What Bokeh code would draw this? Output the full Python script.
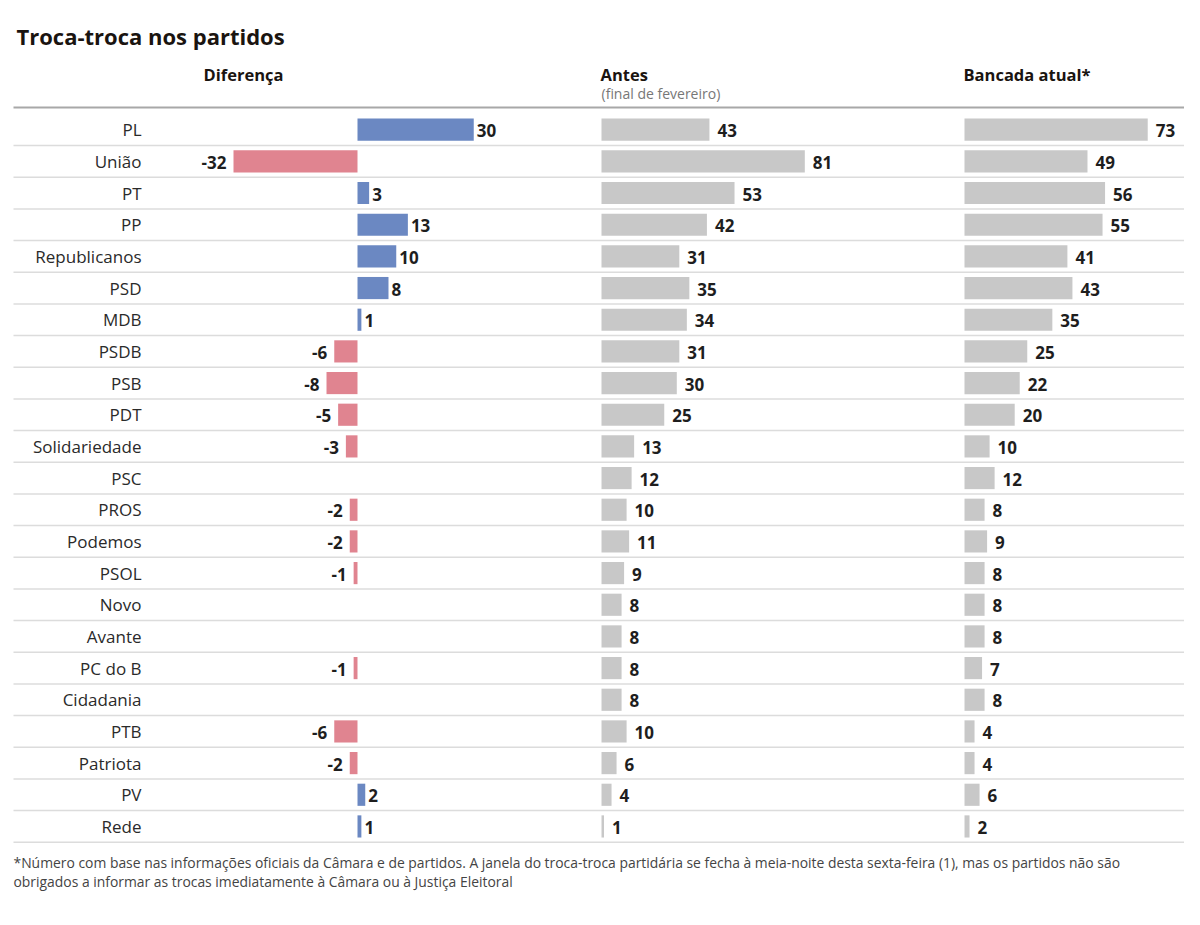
from bokeh.plotting import figure
from bokeh.models import Range1d, ColumnDataSource
from bokeh.core.properties import value
from bokeh.embed import file_html
from bokeh.resources import INLINE

# ---------------- data ----------------
parties = ["PL", "União", "PT", "PP", "Republicanos", "PSD", "MDB", "PSDB", "PSB",
           "PDT", "Solidariedade", "PSC", "PROS", "Podemos", "PSOL", "Novo", "Avante",
           "PC do B", "Cidadania", "PTB", "Patriota", "PV", "Rede"]
diferenca = [30, -32, 3, 13, 10, 8, 1, -6, -8, -5, -3, 0, -2, -2, -1, 0, 0, -1, 0, -6, -2, 2, 1]
antes = [43, 81, 53, 42, 31, 35, 34, 31, 30, 25, 13, 12, 10, 11, 9, 8, 8, 8, 8, 10, 6, 4, 1]
atual = [73, 49, 56, 55, 41, 43, 35, 25, 22, 20, 10, 12, 8, 9, 8, 8, 8, 7, 8, 4, 4, 6, 2]

title_text = "Troca-troca nos partidos"
col_headers = ["Diferença", "Antes", "Bancada atual*"]
subheader = "(final de fevereiro)"
footnote = ["*Número com base nas informações oficiais da Câmara e de partidos. A janela do troca-troca partidária se fecha à meia-noite desta sexta-feira (1), mas os partidos não são",
            "obrigados a informar as trocas imediatamente à Câmara ou à Justiça Eleitoral"]

# ---------------- layout constants ----------------
W, H = 1184, 909
M = 0                        # canvas origin in the screenshot
ROW0, PITCH = 129.2, 31.67   # first row centre (px) and row pitch
DIFF_ZERO, DIFF_SCALE = 357, 3.875
ANTES_ZERO, ATUAL_ZERO, GRAY_SCALE = 601, 964, 2.51

FONT = "Open Sans"
DARK = "#1e1e1e"
BLUE = "#6b88c2"
PINK = "#e08490"
GRAY = "#c8c8c8"

def rng(zero, scale):
    return Range1d((M - zero) / scale, (M + W - zero) / scale)

p = figure(width=W, height=H, output_backend="svg", toolbar_location=None,
           x_axis_location=None, y_axis_location=None, min_border=0,
           x_range=Range1d(M, M + W),
           y_range=Range1d((M + H - ROW0) / PITCH, (M - ROW0) / PITCH))
p.outline_line_color = None
p.grid.visible = False
p.background_fill_color = "white"
p.border_fill_color = "white"
p.extra_x_ranges = {"diff": rng(DIFF_ZERO, DIFF_SCALE),
                    "antes": rng(ANTES_ZERO, GRAY_SCALE),
                    "atual": rng(ATUAL_ZERO, GRAY_SCALE)}
p.extra_y_ranges = {"px": Range1d(M + H, M)}

n = len(parties)
idx = list(range(n))

# separator lines
p.segment(x0=[13] * n, x1=[1185] * n, y0=[i + 0.5 for i in idx], y1=[i + 0.5 for i in idx],
          line_color="#dcdcdc", line_width=1.5)
p.segment(x0=[13], x1=[1185], y0=[107], y1=[107], y_range_name="px",
          line_color="#a8a8a8", line_width=2)

BH = 0.7
# diferença bars
pos = [(i, v) for i, v in zip(idx, diferenca) if v > 0]
neg = [(i, v) for i, v in zip(idx, diferenca) if v < 0]
src_pos = ColumnDataSource(dict(y=[i for i, _ in pos], v=[v for _, v in pos], t=[str(v) for _, v in pos]))
src_neg = ColumnDataSource(dict(y=[i for i, _ in neg], v=[v for _, v in neg], t=[str(v) for _, v in neg]))
p.hbar(y="y", left=0, right="v", height=BH, source=src_pos, x_range_name="diff",
       fill_color=BLUE, line_color=None)
p.hbar(y="y", left="v", right=0, height=BH, source=src_neg, x_range_name="diff",
       fill_color=PINK, line_color=None)
lbl = dict(text_font=value(FONT), text_font_style="bold", text_font_size="17px",
           text_color=DARK, text_baseline="middle")
p.text(x="v", y="y", text="t", source=src_pos, x_range_name="diff", x_offset=3,
       text_align="left", y_offset=1, **lbl)
p.text(x="v", y="y", text="t", source=src_neg, x_range_name="diff", x_offset=-7,
       text_align="right", y_offset=1, **lbl)

# antes / atual bars
for name, vals in (("antes", antes), ("atual", atual)):
    src = ColumnDataSource(dict(y=idx, v=vals, t=[str(v) for v in vals]))
    p.hbar(y="y", left=0, right="v", height=BH, source=src, x_range_name=name,
           fill_color=GRAY, line_color=None)
    p.text(x="v", y="y", text="t", source=src, x_range_name=name, x_offset=8,
           text_align="left", y_offset=1, **lbl)

# party labels
p.text(x=[141] * n, y=idx, text=parties, text_font=value(FONT), text_font_size="17px",
       text_color="#2a2a2a", text_align="right", text_baseline="middle")

# title and headers
p.text(x=[16], y=[35], text=[title_text], y_range_name="px", text_font=value(FONT),
       text_font_style="bold", text_font_size="22px", text_color="#1a1410",
       text_baseline="alphabetic")
p.text(x=[203, 600, 963], y=[74, 74, 74], text=col_headers, y_range_name="px",
       text_font=value(FONT), text_font_style="bold", text_font_size="16.5px",
       text_color="#1a1410", text_baseline="alphabetic")
p.text(x=[601], y=[93], text=[subheader], y_range_name="px", text_font=value(FONT),
       text_font_size="14px", text_color="#777777", text_baseline="alphabetic")

# footnote
p.text(x=[13, 13], y=[862, 881], text=footnote, y_range_name="px", text_font=value(FONT),
       text_font_size="13.9px", text_color="#444444", text_baseline="alphabetic")

open("out.html", "w").write(file_html(p, INLINE))
